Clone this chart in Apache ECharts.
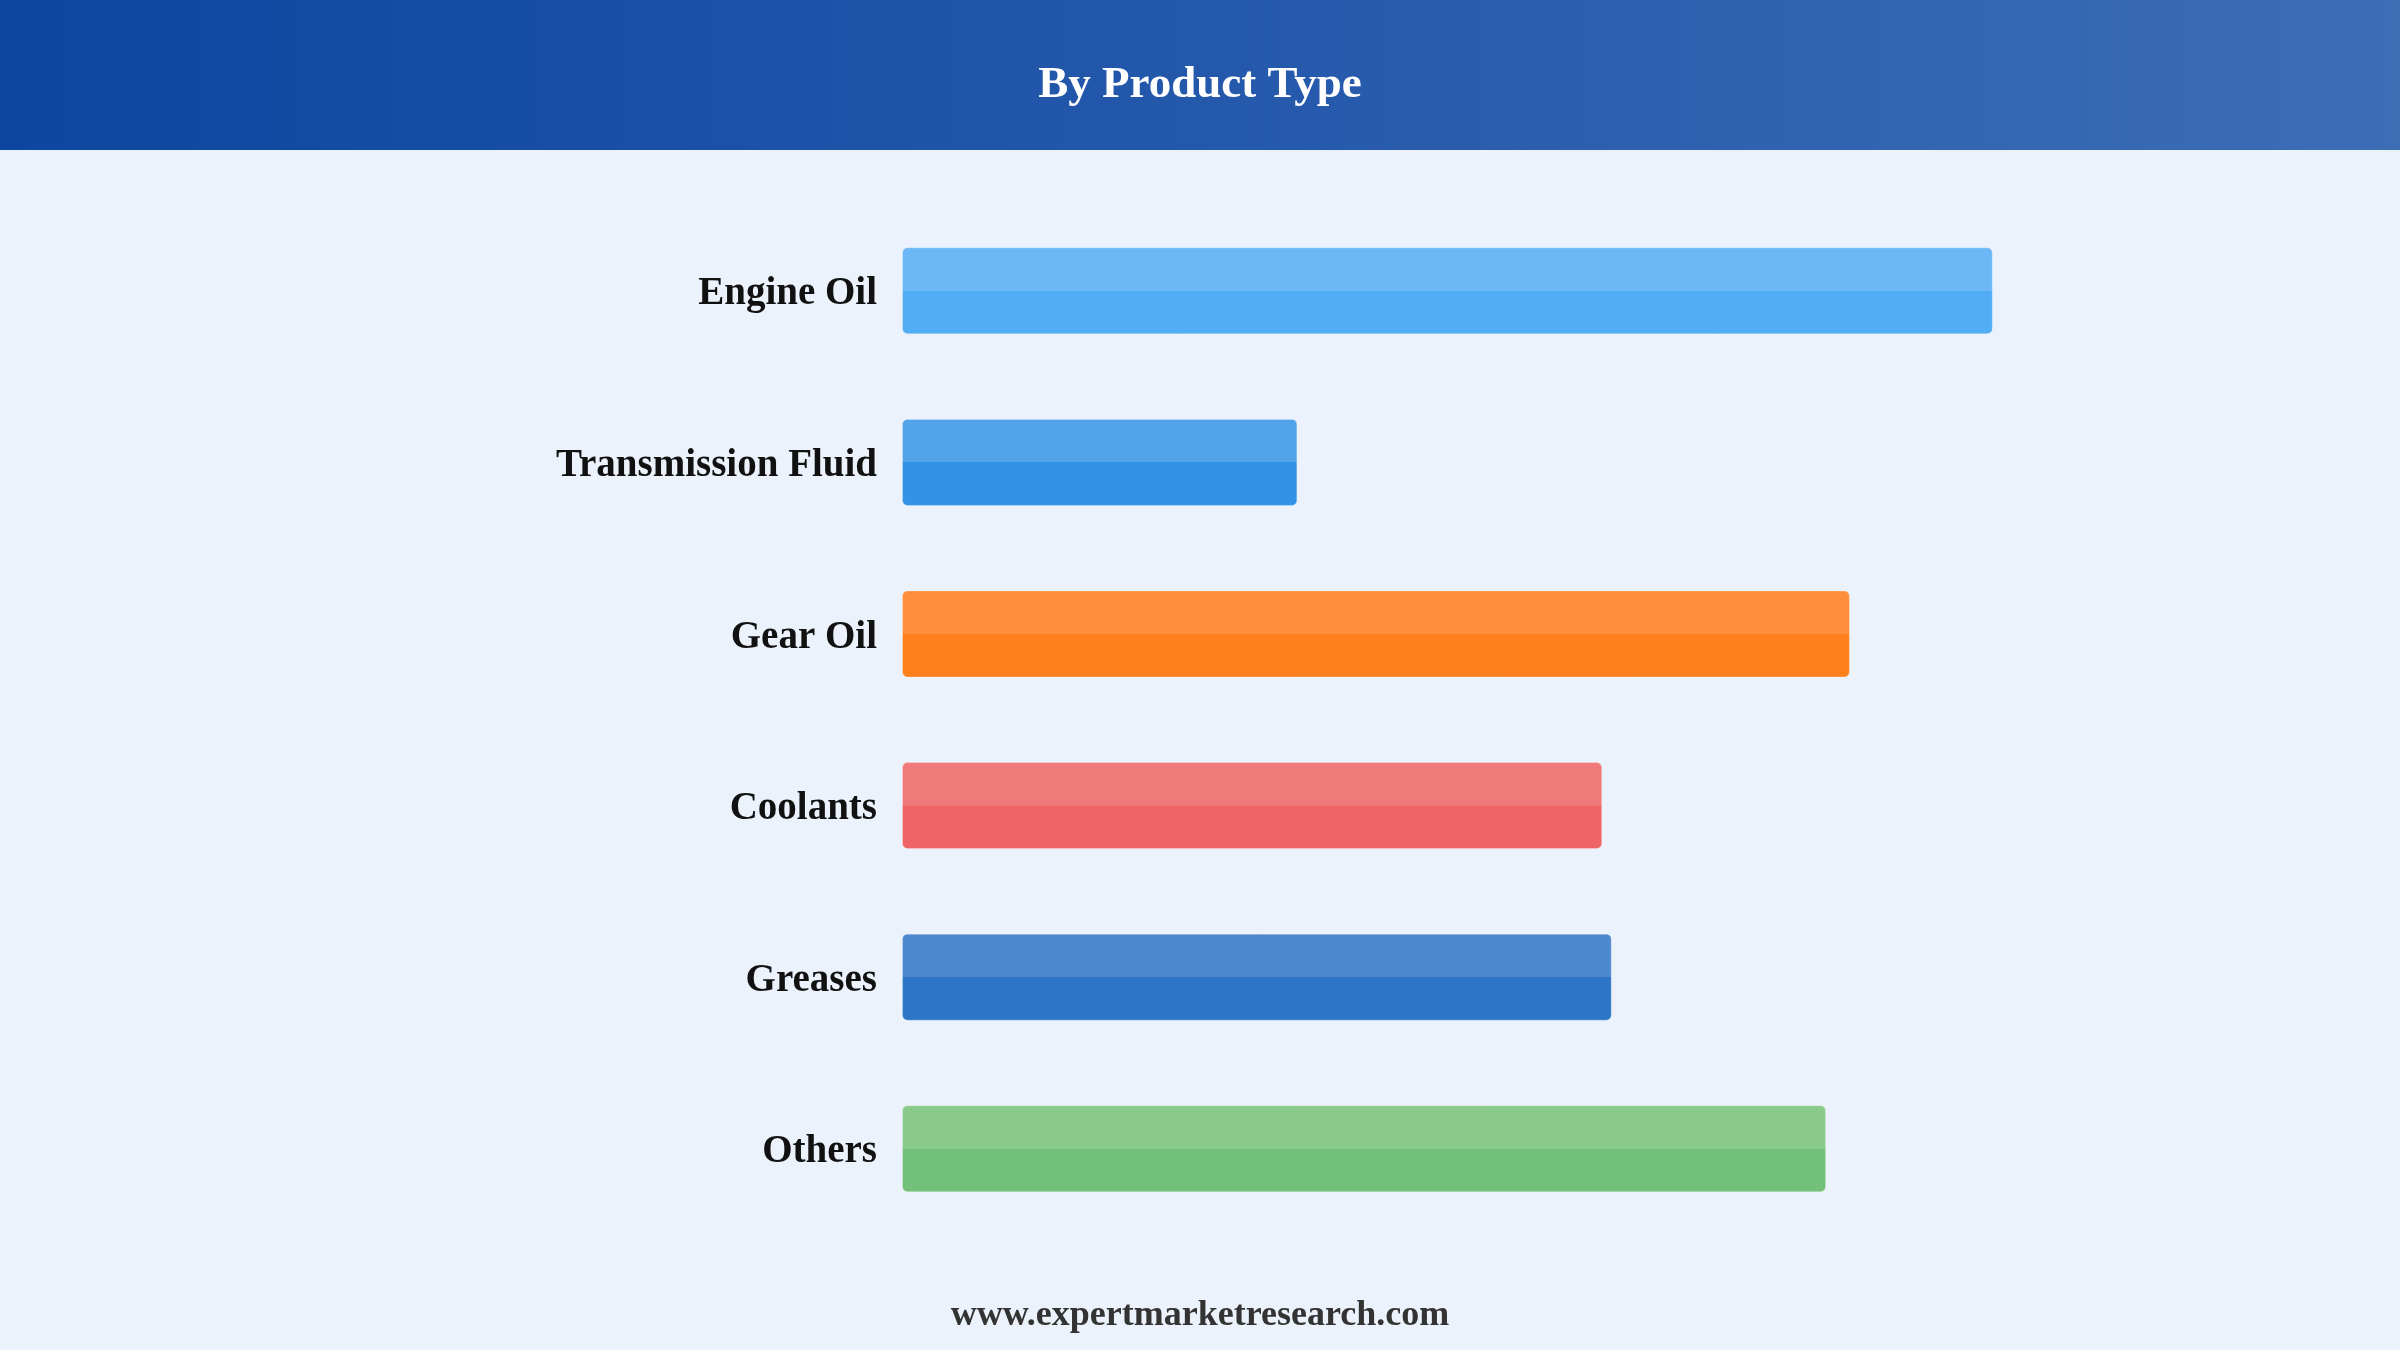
<!DOCTYPE html>
<html>
<head>
<meta charset="utf-8">
<script src="https://cdn.jsdelivr.net/npm/echarts@6/dist/echarts.min.js"></script>
<style>
html,body{margin:0;padding:0;background:#EBF2FB;}
#chart{width:2400px;height:1350px;}
</style>
</head>
<body>
<div id="chart"></div>
<script>
const titleText = 'By Product Type';
const footerText = 'www.expertmarketresearch.com';
const categories = ['Engine Oil', 'Transmission Fluid', 'Gear Oil', 'Coolants', 'Greases', 'Others'];
const values = [22.9, 8.3, 19.9, 14.7, 14.9, 19.4];
const topColors = ['#6CB8F6', '#52A3EA', '#FE8E3C', '#F07A7A', '#4E88CF', '#8ACB8C'];
const bottomColors = ['#52ADF4', '#3292E6', '#FE7F1C', '#EF6464', '#2D75C7', '#73C07A'];

const FONT = "'Liberation Serif', 'Times New Roman', serif";
const chart = echarts.init(document.getElementById('chart'), null, {renderer: 'canvas'});

const data = values.map((v, i) => ({
  value: v,
  itemStyle: {
    color: new echarts.graphic.LinearGradient(0, 0, 0, 1, [
      {offset: 0, color: topColors[i]},
      {offset: 0.5, color: topColors[i]},
      {offset: 0.5, color: bottomColors[i]},
      {offset: 1, color: bottomColors[i]}
    ]),
    borderColor: 'rgba(255,255,255,0.25)',
    borderWidth: 1,
    borderRadius: 5
  }
}));

chart.setOption({
  backgroundColor: '#EBF2FB',
  animation: false,
  grid: {left: 902, right: 69, top: 205, bottom: 115.5, containLabel: false},
  xAxis: {
    type: 'value', min: 0, max: 30, show: false
  },
  yAxis: {
    type: 'category',
    data: categories,
    inverse: true,
    axisLine: {show: false},
    axisTick: {show: false},
    axisLabel: {
      margin: 25,
      formatter: v => '{a|' + v + '}',
      rich: {
        a: {fontFamily: FONT, fontSize: 39, fontWeight: 'bold', color: '#111111', padding: [7, 0, 0, 0]}
      }
    }
  },
  series: [{
    type: 'bar',
    data: data,
    barWidth: 87,
    silent: true
  }],
  graphic: [
    {
      type: 'rect', left: 0, top: 0, z: 0,
      shape: {x: 0, y: 0, width: 2400, height: 150},
      style: {
        fill: new echarts.graphic.LinearGradient(0, 0, 1, 0, [
          {offset: 0, color: '#0D46A0'},
          {offset: 0.5, color: '#2458AB'},
          {offset: 1, color: '#3D6DB5'}
        ])
      }
    },
    {
      type: 'text', x: 1200, y: 85, z: 10,
      style: {
        text: titleText, fill: '#FFFFFF', font: 'bold 45px ' + FONT,
        textAlign: 'center', textVerticalAlign: 'middle'
      }
    },
    {
      type: 'text', x: 1200, y: 1316, z: 10,
      style: {
        text: footerText, fill: '#333333', font: 'bold 36px ' + FONT,
        textAlign: 'center', textVerticalAlign: 'middle'
      }
    }
  ]
});
</script>
</body>
</html>
